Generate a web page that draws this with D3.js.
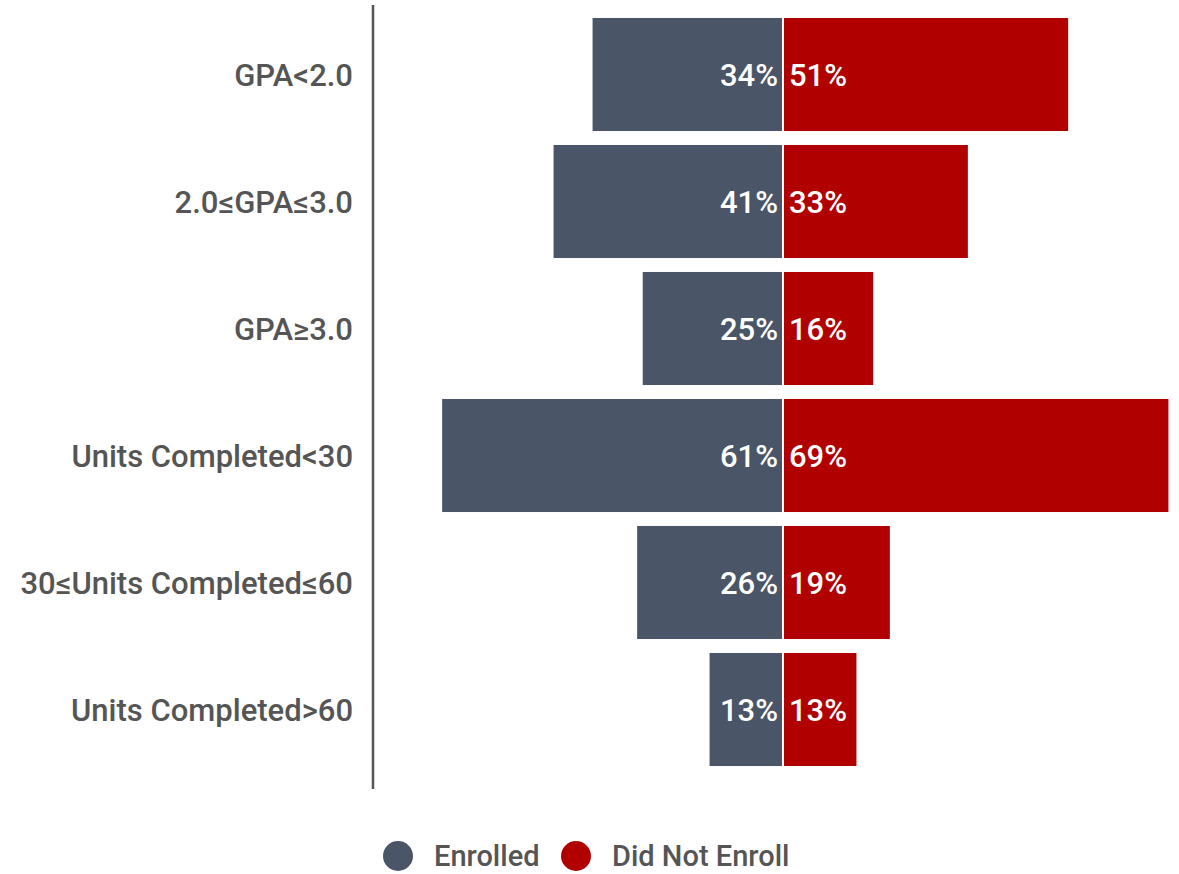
<!DOCTYPE html>
<html>
<head>
<meta charset="utf-8">
<script src="https://cdn.jsdelivr.net/npm/d3@7/dist/d3.min.js"></script>
<style>
  body { margin: 0; background: #fff; }
  text { font-family: Roboto, "Noto Sans", sans-serif; }
</style>
</head>
<body>
<svg id="chart" width="1179" height="874"></svg>
<script>
const categories = ["GPA<2.0", "2.0≤GPA≤3.0", "GPA≥3.0", "Units Completed<30", "30≤Units Completed≤60", "Units Completed>60"];
const enrolled = [34, 41, 25, 61, 26, 13];
const didNotEnroll = [51, 33, 16, 69, 19, 13];
const seriesNames = ["Enrolled", "Did Not Enroll"];
const colors = ["#4a5668", "#b00000"];

const svg = d3.select("#chart");
const center = 783;

const y = d3.scaleBand()
    .domain(categories)
    .range([11, 773])
    .paddingInner(0.11)
    .paddingOuter(0.055);

// bar widths per side
const w = d3.scaleLinear().domain([0, 70]).range([0, 390]);

const rows = svg.append("g").selectAll("g")
    .data(categories)
    .join("g")
    .attr("transform", d => `translate(0,${y(d)})`);

rows.append("rect")
    .attr("x", (d, i) => center - 1 - w(enrolled[i]))
    .attr("width", (d, i) => w(enrolled[i]))
    .attr("height", y.bandwidth())
    .attr("fill", colors[0]);

rows.append("rect")
    .attr("x", center + 1)
    .attr("width", (d, i) => w(didNotEnroll[i]))
    .attr("height", y.bandwidth())
    .attr("fill", colors[1]);

rows.append("text")
    .attr("x", center - 5)
    .attr("y", y.bandwidth() / 2)
    .attr("dy", "0.36em")
    .attr("text-anchor", "end")
    .attr("fill", "#fff")
    .style("font-size", "31px")
    .style("font-weight", 500)
    .text((d, i) => enrolled[i] + "%");

rows.append("text")
    .attr("x", center + 6)
    .attr("y", y.bandwidth() / 2)
    .attr("dy", "0.36em")
    .attr("fill", "#fff")
    .style("font-size", "31px")
    .style("font-weight", 500)
    .text((d, i) => didNotEnroll[i] + "%");

// category axis
const axis = svg.append("g")
    .attr("transform", "translate(373,0)")
    .call(d3.axisLeft(y).tickSize(0).tickPadding(20));
axis.select(".domain").remove();
axis.selectAll("text")
    .attr("fill", "#555")
    .attr("dy", "0.36em")
    .style("font-family", "Roboto, sans-serif")
    .style("font-size", "31px")
    .style("font-weight", 500);

svg.append("line")
    .attr("x1", 373).attr("x2", 373)
    .attr("y1", 5).attr("y2", 789)
    .attr("stroke", "#555")
    .attr("stroke-width", 2.5);

// legend
const legendX = [398, 576];
const legend = svg.append("g").selectAll("g")
    .data(seriesNames)
    .join("g")
    .attr("transform", (d, i) => `translate(${legendX[i]},856)`);
legend.append("circle")
    .attr("r", 15)
    .attr("fill", (d, i) => colors[i]);
legend.append("text")
    .attr("x", 36)
    .attr("dy", "0.36em")
    .attr("fill", "#555")
    .style("font-size", "29px")
    .style("font-weight", 500)
    .text(d => d);
</script>
</body>
</html>
